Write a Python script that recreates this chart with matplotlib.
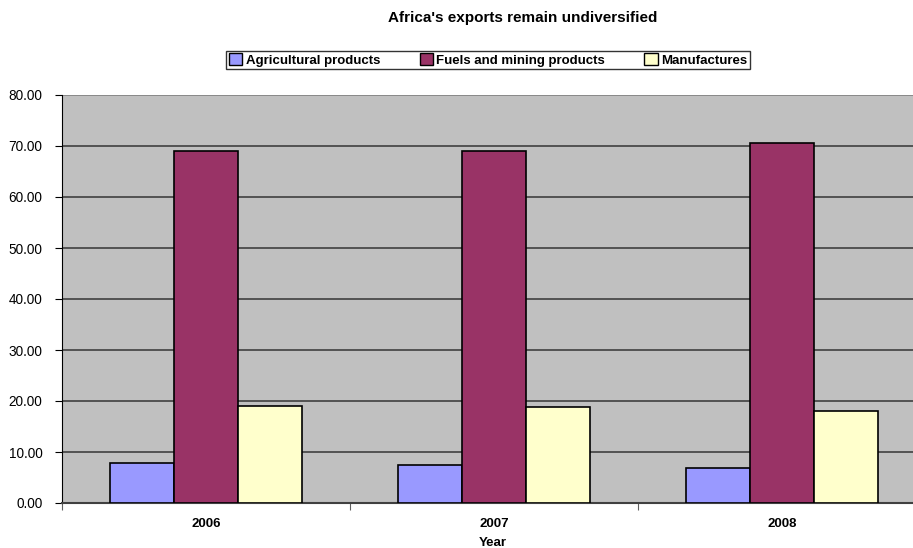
import numpy as np
import matplotlib.pyplot as plt
from matplotlib.patches import Patch

years = ["2006", "2007", "2008"]
agricultural = [7.8, 7.5, 6.9]
fuels = [69.0, 69.1, 70.6]
manufactures = [19.0, 18.8, 18.0]
series_names = ["Agricultural products", "Fuels and mining products", "Manufactures"]
colors = ["#9999FF", "#993366", "#FFFFCC"]

plt.rcParams['font.family'] = ['Liberation Sans', 'DejaVu Sans']

fig = plt.figure(figsize=(9.13, 5.48), dpi=100)
W, H = 913., 548.
ax = fig.add_axes([62 / W, (H - 503) / H, 864 / W, 408 / H])
ax.set_facecolor("#C0C0C0")

x = np.arange(len(years)) + 0.5
w = 2. / 9
for i, vals in enumerate([agricultural, fuels, manufactures]):
    ax.bar(x + (i - 1) * w, vals, width=w, color=colors[i], edgecolor="black",
           linewidth=1.2, zorder=3)

ax.set_xlim(0, 3)
ax.set_ylim(0, 80)
ax.set_yticks(np.arange(0, 81, 10))
ax.set_yticklabels(["{:.2f}".format(v) for v in np.arange(0, 81, 10)], fontsize=9.8)
ax.yaxis.grid(True, color="#404040", linewidth=1.2, zorder=1)
ax.get_ygridlines()[-1].set_color("#808080")
ax.set_axisbelow(True)

# category boundary ticks, labels at centres
ax.set_xticks([0, 1, 2, 3])
ax.set_xticklabels([])
ax.set_xticks(x, minor=True)
ax.set_xticklabels(years, minor=True, fontsize=9.5, fontweight="bold")
ax.tick_params(axis="x", which="minor", length=0, pad=11)
ax.tick_params(axis="x", which="major", length=5, color="#606060")
ax.tick_params(axis="y", length=5, pad=9)

for s in ["top", "right"]:
    ax.spines[s].set_visible(False)
ax.spines["left"].set_color("black")
ax.spines["bottom"].set_color("#404040")
ax.spines["bottom"].set_linewidth(1.5)

fig.text(523 / W, 1 - 18 / H, "Africa's exports remain undiversified", ha="center",
         va="center", fontsize=11, fontweight="bold")
fig.text(493 / W, 1 - 543 / H, "Year", ha="center", va="center", fontsize=9.5,
         fontweight="bold")

handles = [Patch(facecolor=c, edgecolor="black", linewidth=1) for c in colors]
leg = fig.legend(handles, series_names, loc="center", bbox_to_anchor=(488 / W, 1 - 60 / H),
                 ncol=3, frameon=True, fancybox=False,
                 prop={"weight": "bold", "size": 9.5}, handlelength=1.0, handleheight=1.0,
                 handletextpad=0.25, columnspacing=3.0, borderpad=0.2, borderaxespad=0)
leg.get_frame().set_edgecolor("black")
leg.get_frame().set_linewidth(1)

fig.savefig("out.png", dpi=100)
